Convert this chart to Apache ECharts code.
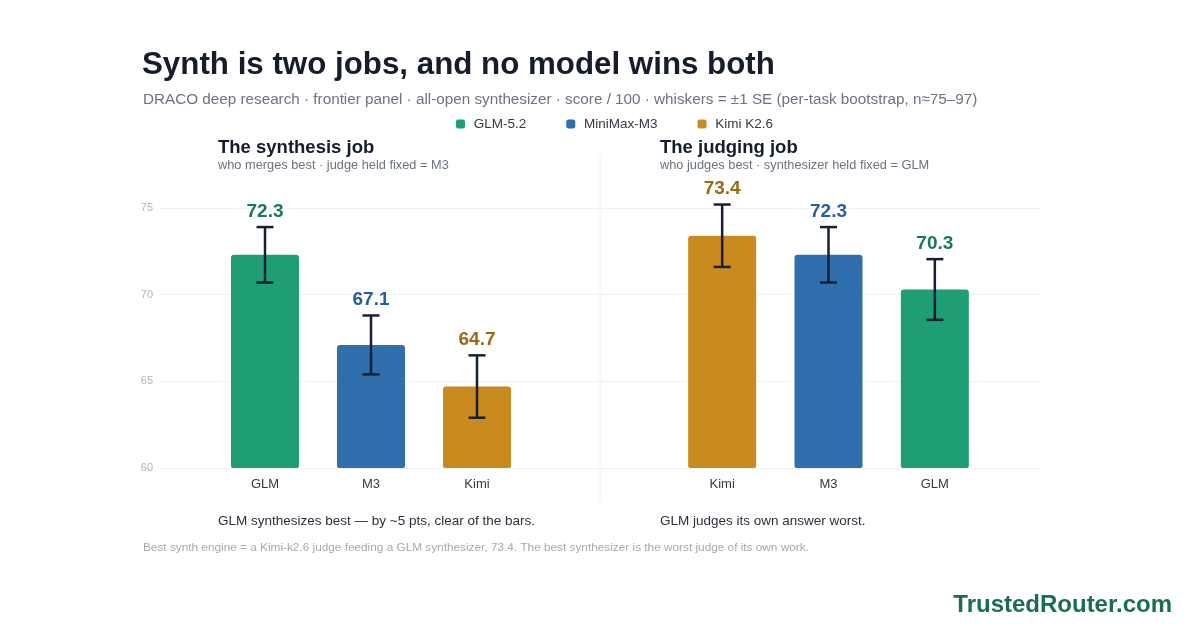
<!DOCTYPE html>
<html>
<head>
<meta charset="utf-8">
<script src="https://cdn.jsdelivr.net/npm/echarts@6/dist/echarts.min.js"></script>
<style>
  html, body { margin: 0; padding: 0; background: #fff; }
  #chart { width: 1200px; height: 630px; }
</style>
</head>
<body>
<div id="chart"></div>
<script>
// models and their colours
var models = ['GLM-5.2', 'MiniMax-M3', 'Kimi K2.6'];
var shortNames = ['GLM', 'M3', 'Kimi'];
var barColors = ['#1f9e74', '#2f6fae', '#c98a1f'];
var labelColors = ['#18795a', '#265e9e', '#9a6a12'];

// synthesis job: judge held fixed = M3
var synthCats = ['GLM', 'M3', 'Kimi'];
var synthVals = [72.3, 67.1, 64.7];
var synthSE = [1.6, 1.7, 1.8];

// judging job: synthesizer held fixed = GLM
var judgeCats = ['Kimi', 'M3', 'GLM'];
var judgeVals = [73.4, 72.3, 70.3];
var judgeSE = [1.8, 1.6, 1.75];

var yTicks = [60, 65, 70, 75];
var yMin = yTicks[0], yMax = yTicks[yTicks.length - 1];

var FONT = '"Liberation Sans", Arial, Helvetica, sans-serif';

function modelIndex(cat) {
    return shortNames.indexOf(cat);
}

// one bar series per model per panel, overlapped with barGap -100%
function barSeries(cats, vals, axisIdx) {
    return models.map(function (m, mi) {
        return {
            name: m,
            type: 'bar',
            xAxisIndex: axisIdx,
            yAxisIndex: axisIdx,
            barWidth: 68,
            barGap: '-100%',
            itemStyle: { color: barColors[mi], borderRadius: [3, 3, 2, 2] },
            data: cats.map(function (c, i) {
                return modelIndex(c) === mi ? vals[i] : '-';
            })
        };
    });
}

function errorSeries(cats, vals, se, axisIdx) {
    return {
        type: 'custom',
        xAxisIndex: axisIdx,
        yAxisIndex: axisIdx,
        z: 10,
        clip: false,
        silent: true,
        data: cats.map(function (c, i) { return [i, vals[i], se[i], modelIndex(c)]; }),
        renderItem: function (params, api) {
            var i = api.value(0), v = api.value(1), s = api.value(2), mi = api.value(3);
            var hi = api.coord([i, v + s]);
            var lo = api.coord([i, v - s]);
            var x = hi[0], cap = 8.5;
            var lineStyle = { stroke: '#17202e', lineWidth: 2.5 };
            return {
                type: 'group',
                children: [
                    { type: 'line', shape: { x1: x, y1: hi[1], x2: x, y2: lo[1] }, style: lineStyle },
                    { type: 'line', shape: { x1: x - cap, y1: hi[1], x2: x + cap, y2: hi[1] }, style: lineStyle },
                    { type: 'line', shape: { x1: x - cap, y1: lo[1], x2: x + cap, y2: lo[1] }, style: lineStyle },
                    {
                        type: 'text',
                        x: x, y: hi[1] - 6,
                        style: {
                            text: v.toFixed(1),
                            fill: labelColors[mi],
                            font: 'bold 19px ' + FONT,
                            align: 'center',
                            verticalAlign: 'bottom'
                        }
                    }
                ]
            };
        }
    };
}

function catAxis(cats, gridIdx) {
    return {
        type: 'category',
        gridIndex: gridIdx,
        data: cats,
        axisLine: { show: false },
        axisTick: { show: false },
        axisLabel: { color: '#333a44', fontSize: 13, fontFamily: FONT, margin: 10 }
    };
}

function hiddenY(gridIdx) {
    return {
        type: 'value', gridIndex: gridIdx, min: yMin, max: yMax,
        interval: 5, show: false, splitLine: { show: false }
    };
}

var myChart = echarts.init(document.getElementById('chart'));

var option = {
    backgroundColor: '#ffffff',
    animation: false,
    title: [
        {
            text: 'Synth is two jobs, and no model wins both',
            left: 142, top: 50, padding: 0,
            textStyle: { fontSize: 31.3, fontWeight: 'bold', color: '#151c2c', fontFamily: FONT }
        },
        {
            text: 'DRACO deep research · frontier panel · all-open synthesizer · score / 100 · whiskers = ±1 SE (per-task bootstrap, n≈75–97)',
            left: 143, top: 92, padding: 0,
            textStyle: { fontSize: 15.25, fontWeight: 'normal', color: '#6b7280', fontFamily: FONT }
        },
        {
            text: 'The synthesis job',
            left: 218, top: 138, padding: 0,
            textStyle: { fontSize: 18.5, fontWeight: 'bold', color: '#151c2c', fontFamily: FONT }
        },
        {
            text: 'who merges best · judge held fixed = M3',
            left: 218, top: 159, padding: 0,
            textStyle: { fontSize: 12.8, fontWeight: 'normal', color: '#6b7280', fontFamily: FONT }
        },
        {
            text: 'The judging job',
            left: 660, top: 138, padding: 0,
            textStyle: { fontSize: 18.5, fontWeight: 'bold', color: '#151c2c', fontFamily: FONT }
        },
        {
            text: 'who judges best · synthesizer held fixed = GLM',
            left: 660, top: 159, padding: 0,
            textStyle: { fontSize: 12.8, fontWeight: 'normal', color: '#6b7280', fontFamily: FONT }
        }
    ],
    legend: {
        data: models,
        left: 456,
        top: 117,
        padding: 0,
        icon: 'roundRect',
        itemWidth: 9,
        itemHeight: 9,
        itemGap: 40,
        formatter: function (name) { return ' ' + name; },
        textStyle: { fontSize: 13.5, color: '#333a44', fontFamily: FONT }
    },
    grid: [
        // background gridlines + y labels
        { left: 160, width: 881, top: 208, height: 260 },
        // synthesis bars
        { left: 212, width: 318, top: 208, height: 260 },
        // judging bars
        { left: 669, width: 319, top: 208, height: 260 }
    ],
    xAxis: [
        { type: 'value', gridIndex: 0, show: false, min: 0, max: 1 },
        catAxis(synthCats, 1),
        catAxis(judgeCats, 2)
    ],
    yAxis: [
        {
            type: 'value', gridIndex: 0, min: yMin, max: yMax, interval: 5,
            axisLine: { show: false },
            axisTick: { show: false },
            axisLabel: { color: '#aeb4bc', fontSize: 11, fontFamily: FONT, margin: 7 },
            splitLine: { lineStyle: { color: '#eef0f2', width: 1 } }
        },
        hiddenY(1),
        hiddenY(2)
    ],
    graphic: [
        {
            type: 'line', shape: { x1: 600, y1: 155, x2: 600, y2: 502 },
            style: { stroke: '#eef0f3', lineWidth: 1 }, z: -1
        },
        {
            type: 'text', left: 218, top: 514,
            style: { text: 'GLM synthesizes best — by ~5 pts, clear of the bars.', fill: '#2b313b', font: '13.5px ' + FONT }
        },
        {
            type: 'text', left: 660, top: 514,
            style: { text: 'GLM judges its own answer worst.', fill: '#2b313b', font: '13.5px ' + FONT }
        },
        {
            type: 'text', left: 143, top: 542,
            style: {
                text: 'Best synth engine = a Kimi-k2.6 judge feeding a GLM synthesizer, 73.4. The best synthesizer is the worst judge of its own work.',
                fill: '#a4a9b1', font: '11.8px ' + FONT
            }
        },
        {
            type: 'text', right: 28, top: 593,
            style: { text: 'TrustedRouter.com', fill: '#1a6e4e', font: 'bold 24px ' + FONT }
        }
    ],
    series: []
        .concat(barSeries(synthCats, synthVals, 1))
        .concat(barSeries(judgeCats, judgeVals, 2))
        .concat([
            errorSeries(synthCats, synthVals, synthSE, 1),
            errorSeries(judgeCats, judgeVals, judgeSE, 2)
        ])
};

myChart.setOption(option);
</script>
</body>
</html>
